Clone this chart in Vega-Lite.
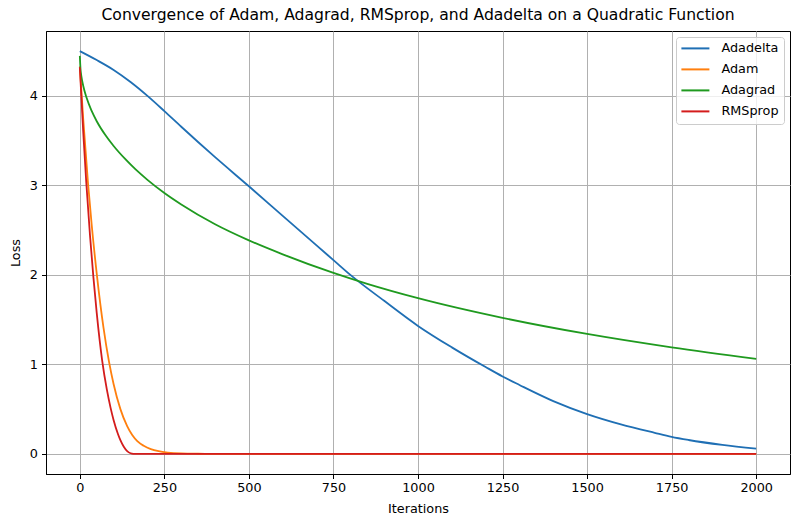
{
  "$schema": "https://vega.github.io/schema/vega-lite/v6.json",
  "autosize": {"type": "none"},
  "padding": {"left": 46, "top": 31, "right": 10, "bottom": 51},
  "width": 744,
  "height": 443,
  "background": "white",
  "title": {"text": "Convergence of Adam, Adagrad, RMSprop, and Adadelta on a Quadratic Function", "font": "DejaVu Sans", "fontSize": 15.6, "fontWeight": "normal", "color": "black", "anchor": "middle", "offset": 7},
  "config": {
    "view": {"stroke": "black", "strokeWidth": 1},
    "axis": {"labelFont": "DejaVu Sans", "labelFontSize": 12.8, "labelColor": "black", "titleFont": "DejaVu Sans", "titleFontSize": 12.8, "titleFontWeight": "normal", "titleColor": "black", "tickColor": "black", "tickSize": 4.5, "domainColor": "black", "gridColor": "#b0b0b0", "gridWidth": 1, "gridOpacity": 1},
    "legend": {"labelFont": "DejaVu Sans", "labelFontSize": 12.8, "labelColor": "black"}
  },
  "data": {"values": [
    {"x": 0, "loss": 4.50, "opt": "Adadelta"},
    {"x": 50, "loss": 4.40, "opt": "Adadelta"},
    {"x": 100, "loss": 4.29, "opt": "Adadelta"},
    {"x": 150, "loss": 4.155, "opt": "Adadelta"},
    {"x": 200, "loss": 4.00, "opt": "Adadelta"},
    {"x": 250, "loss": 3.83, "opt": "Adadelta"},
    {"x": 300, "loss": 3.655, "opt": "Adadelta"},
    {"x": 400, "loss": 3.315, "opt": "Adadelta"},
    {"x": 500, "loss": 2.99, "opt": "Adadelta"},
    {"x": 600, "loss": 2.66, "opt": "Adadelta"},
    {"x": 700, "loss": 2.33, "opt": "Adadelta"},
    {"x": 750, "loss": 2.165, "opt": "Adadelta"},
    {"x": 800, "loss": 2.00, "opt": "Adadelta"},
    {"x": 900, "loss": 1.71, "opt": "Adadelta"},
    {"x": 1000, "loss": 1.43, "opt": "Adadelta"},
    {"x": 1100, "loss": 1.19, "opt": "Adadelta"},
    {"x": 1200, "loss": 0.97, "opt": "Adadelta"},
    {"x": 1250, "loss": 0.865, "opt": "Adadelta"},
    {"x": 1300, "loss": 0.77, "opt": "Adadelta"},
    {"x": 1400, "loss": 0.59, "opt": "Adadelta"},
    {"x": 1500, "loss": 0.445, "opt": "Adadelta"},
    {"x": 1600, "loss": 0.33, "opt": "Adadelta"},
    {"x": 1700, "loss": 0.235, "opt": "Adadelta"},
    {"x": 1750, "loss": 0.19, "opt": "Adadelta"},
    {"x": 1800, "loss": 0.155, "opt": "Adadelta"},
    {"x": 1900, "loss": 0.10, "opt": "Adadelta"},
    {"x": 2000, "loss": 0.058, "opt": "Adadelta"},

    {"x": 0, "loss": 4.33, "opt": "Adam"},
    {"x": 10, "loss": 3.744, "opt": "Adam"},
    {"x": 24, "loss": 3.035, "opt": "Adam"},
    {"x": 35, "loss": 2.563, "opt": "Adam"},
    {"x": 50, "loss": 2.015, "opt": "Adam"},
    {"x": 70, "loss": 1.41, "opt": "Adam"},
    {"x": 86, "loss": 1.036, "opt": "Adam"},
    {"x": 100, "loss": 0.778, "opt": "Adam"},
    {"x": 120, "loss": 0.50, "opt": "Adam"},
    {"x": 140, "loss": 0.31, "opt": "Adam"},
    {"x": 155, "loss": 0.21, "opt": "Adam"},
    {"x": 170, "loss": 0.142, "opt": "Adam"},
    {"x": 189, "loss": 0.09, "opt": "Adam"},
    {"x": 210, "loss": 0.053, "opt": "Adam"},
    {"x": 233, "loss": 0.03, "opt": "Adam"},
    {"x": 260, "loss": 0.015, "opt": "Adam"},
    {"x": 300, "loss": 0.005, "opt": "Adam"},
    {"x": 350, "loss": 0.0015, "opt": "Adam"},
    {"x": 400, "loss": 0.0004, "opt": "Adam"},
    {"x": 500, "loss": 0, "opt": "Adam"},
    {"x": 1000, "loss": 0, "opt": "Adam"},
    {"x": 1500, "loss": 0, "opt": "Adam"},
    {"x": 2000, "loss": 0, "opt": "Adam"},

    {"x": 0, "loss": 4.447, "opt": "Adagrad"},
    {"x": 2, "loss": 4.30, "opt": "Adagrad"},
    {"x": 5, "loss": 4.21, "opt": "Adagrad"},
    {"x": 10, "loss": 4.113, "opt": "Adagrad"},
    {"x": 20, "loss": 3.978, "opt": "Adagrad"},
    {"x": 35, "loss": 3.832, "opt": "Adagrad"},
    {"x": 50, "loss": 3.717, "opt": "Adagrad"},
    {"x": 75, "loss": 3.565, "opt": "Adagrad"},
    {"x": 100, "loss": 3.44, "opt": "Adagrad"},
    {"x": 134, "loss": 3.295, "opt": "Adagrad"},
    {"x": 165, "loss": 3.178, "opt": "Adagrad"},
    {"x": 200, "loss": 3.062, "opt": "Adagrad"},
    {"x": 250, "loss": 2.915, "opt": "Adagrad"},
    {"x": 300, "loss": 2.787, "opt": "Adagrad"},
    {"x": 400, "loss": 2.566, "opt": "Adagrad"},
    {"x": 500, "loss": 2.386, "opt": "Adagrad"},
    {"x": 600, "loss": 2.23, "opt": "Adagrad"},
    {"x": 750, "loss": 2.022, "opt": "Adagrad"},
    {"x": 850, "loss": 1.90, "opt": "Adagrad"},
    {"x": 1000, "loss": 1.74, "opt": "Adagrad"},
    {"x": 1250, "loss": 1.52, "opt": "Adagrad"},
    {"x": 1500, "loss": 1.34, "opt": "Adagrad"},
    {"x": 1750, "loss": 1.19, "opt": "Adagrad"},
    {"x": 2000, "loss": 1.061, "opt": "Adagrad"},

    {"x": 0, "loss": 4.32, "opt": "RMSprop"},
    {"x": 10, "loss": 3.603, "opt": "RMSprop"},
    {"x": 19, "loss": 3.038, "opt": "RMSprop"},
    {"x": 30, "loss": 2.446, "opt": "RMSprop"},
    {"x": 40, "loss": 1.98, "opt": "RMSprop"},
    {"x": 50, "loss": 1.575, "opt": "RMSprop"},
    {"x": 66, "loss": 1.045, "opt": "RMSprop"},
    {"x": 80, "loss": 0.717, "opt": "RMSprop"},
    {"x": 91, "loss": 0.514, "opt": "RMSprop"},
    {"x": 100, "loss": 0.376, "opt": "RMSprop"},
    {"x": 113, "loss": 0.219, "opt": "RMSprop"},
    {"x": 120, "loss": 0.153, "opt": "RMSprop"},
    {"x": 130, "loss": 0.079, "opt": "RMSprop"},
    {"x": 140, "loss": 0.031, "opt": "RMSprop"},
    {"x": 150, "loss": 0.0066, "opt": "RMSprop"},
    {"x": 158, "loss": 0.0003, "opt": "RMSprop"},
    {"x": 170, "loss": 0, "opt": "RMSprop"},
    {"x": 500, "loss": 0, "opt": "RMSprop"},
    {"x": 1000, "loss": 0, "opt": "RMSprop"},
    {"x": 1500, "loss": 0, "opt": "RMSprop"},
    {"x": 2000, "loss": 0, "opt": "RMSprop"}
  ]},
  "mark": {"type": "line", "strokeWidth": 1.8, "interpolate": "monotone", "clip": true},
  "encoding": {
    "x": {"field": "x", "type": "quantitative", "title": "Iterations",
      "scale": {"domain": [-100, 2100], "nice": false, "zero": false},
      "axis": {"values": [0, 250, 500, 750, 1000, 1250, 1500, 1750, 2000], "format": "d", "labelPadding": 3, "titlePadding": 8, "labelFlush": false}},
    "y": {"field": "loss", "type": "quantitative", "title": "Loss",
      "scale": {"domain": [-0.225, 4.725], "nice": false, "zero": false},
      "axis": {"values": [0, 1, 2, 3, 4], "format": "d", "labelPadding": 4, "titlePadding": 7, "labelFlush": false}},
    "color": {"field": "opt", "type": "nominal", "title": null,
      "scale": {"domain": ["Adadelta", "Adam", "Adagrad", "RMSprop"], "range": ["#1f6fb4", "#ff7f0e", "#1f9a1f", "#d41c1c"]},
      "legend": {"orient": "top-right", "offset": 6, "symbolType": "M-1.2,0H4.4", "symbolSize": 100, "symbolStrokeWidth": 2, "padding": 5, "rowPadding": 7, "labelOffset": 27.6, "fillColor": "rgba(255,255,255,0.8)", "strokeColor": "#cccccc", "cornerRadius": 3}}
  }
}
